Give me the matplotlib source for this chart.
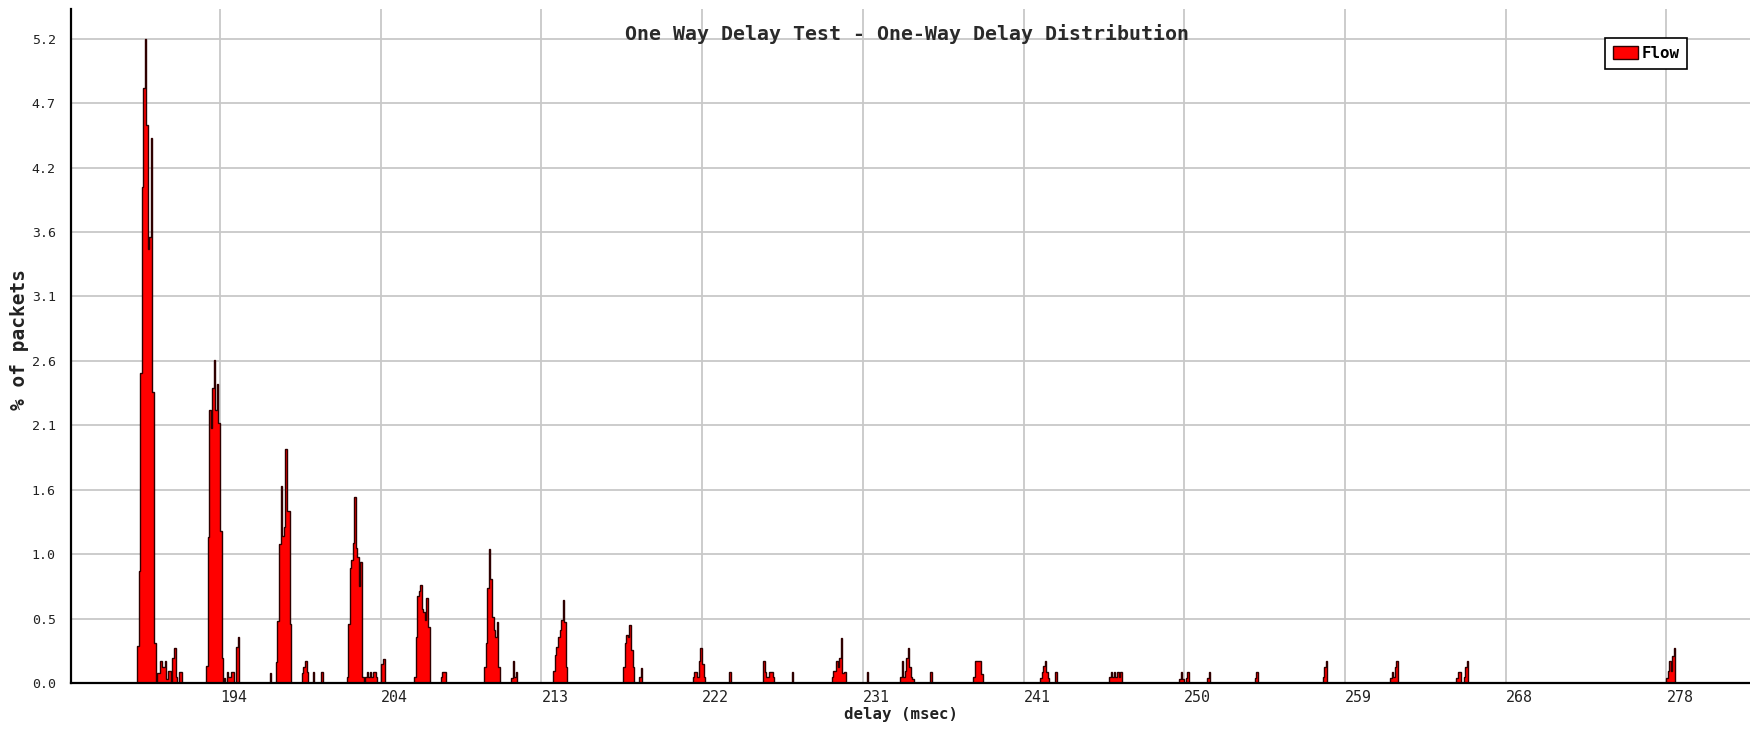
import numpy as np
import matplotlib
matplotlib.use('Agg')
import matplotlib.pyplot as plt
from matplotlib.patches import Patch

#################################
# histogram data (bin width in msec)
BIN = 0.09
# left edge (msec) of each run of consecutive bins
group_start = [189.18, 190.34, 193.19, 194.21, 196.90, 197.25, 198.76, 199.40,
               199.87, 201.35, 202.42, 203.38, 205.27, 206.83, 209.35, 210.90,
               213.36, 217.42, 218.35, 221.45, 223.58, 225.55, 227.20, 229.52,
               231.55, 233.49, 235.23, 237.75, 241.62, 242.49, 245.64, 249.71,
               251.33, 254.10, 258.04, 261.95, 265.78, 277.97]
# % of packets in each bin of the run
group_pct = [
    [0.30, 0.90, 2.50, 4.00, 4.80, 5.20, 4.50, 3.50, 3.60, 4.40, 2.35, 0.32],
    [0.08, 0.08, 0.18, 0.13, 0.13, 0.18, 0.03, 0.10, 0.10, 0.00, 0.20, 0.28, 0.05, 0.00, 0.09, 0.09],
    [0.14, 1.18, 2.20, 2.06, 2.38, 2.61, 2.20, 2.41, 2.10, 1.23, 0.20],
    [0.04, 0.00, 0.09, 0.05, 0.05, 0.09, 0.09, 0.00, 0.29, 0.37],
    [0.08],
    [0.17, 0.50, 1.12, 1.59, 1.19, 1.26, 1.89, 1.39, 1.39, 0.48],
    [0.08, 0.13, 0.18, 0.09],
    [0.09],
    [0.09],
    [0.05, 0.48, 0.93, 0.99, 1.13, 1.50, 1.09, 1.02, 0.78, 0.98, 0.05],
    [0.05, 0.09, 0.05, 0.09, 0.05, 0.09, 0.09, 0.05],
    [0.15, 0.19],
    [0.05, 0.37, 0.70, 0.74, 0.79, 0.60, 0.57, 0.51, 0.69, 0.45],
    [0.05, 0.09, 0.09],
    [0.13, 0.32, 0.77, 1.08, 0.84, 0.53, 0.43, 0.37, 0.49, 0.13],
    [0.04, 0.18, 0.05, 0.09],
    [0.10, 0.23, 0.29, 0.37, 0.43, 0.51, 0.67, 0.49, 0.13],
    [0.13, 0.32, 0.39, 0.37, 0.47, 0.27, 0.13],
    [0.05, 0.12],
    [0.05, 0.09, 0.09, 0.05, 0.18, 0.28, 0.15, 0.05],
    [0.09],
    [0.18, 0.09, 0.05, 0.05, 0.09, 0.09, 0.05],
    [0.09],
    [0.05, 0.10, 0.10, 0.18, 0.13, 0.20, 0.36, 0.08, 0.09],
    [0.09],
    [0.05, 0.18, 0.05, 0.10, 0.20, 0.28, 0.13, 0.05, 0.03],
    [0.09],
    [0.05, 0.18, 0.18, 0.18, 0.18, 0.07],
    [0.04, 0.09, 0.14, 0.18, 0.09, 0.04],
    [0.09],
    [0.05, 0.09, 0.05, 0.09, 0.05, 0.09, 0.05, 0.09],
    [0.03, 0.09, 0.03, 0.00, 0.04, 0.09],
    [0.04, 0.09],
    [0.04, 0.09],
    [0.05, 0.13, 0.18],
    [0.04, 0.09, 0.05, 0.13, 0.18],
    [0.04, 0.09, 0.09, 0.00, 0.00, 0.05, 0.13, 0.18],
    [0.04, 0.10, 0.18, 0.10, 0.22, 0.28],
]
xtick_labels = ['194', '204', '213', '222', '231', '241', '250', '259', '268', '278']
ytick_labels = ['0.0', '0.5', '1.0', '1.6', '2.1', '2.6', '3.1', '3.6', '4.2', '4.7', '5.2']
#################################

W, H = 1750, 729
MONO = 'DejaVu Sans Mono'
fig = plt.figure(figsize=(W / 100, H / 100), dpi=100)
ax = fig.add_axes([71 / W, 46 / H, (W - 71) / W, 674 / H])

FILL = '#ff0000'
EDGE = '#2e0000'
for start, pct in zip(group_start, group_pct):
    edges = start + BIN * np.arange(len(pct) + 1)
    ax.stairs(pct, edges, fill=True, color=FILL, zorder=2)
    ax.stairs(pct, edges, color=EDGE, linewidth=1.0, baseline=0, zorder=3)

xticks = np.linspace(194, 278, len(xtick_labels))
yticks = np.linspace(0, 5.2, len(ytick_labels))
ax.set_xlim(185.35, 282.85)
ax.set_ylim(0, 5.44)
ax.set_xticks(xticks)
ax.set_xticklabels(xtick_labels, ha='left', family=MONO, fontsize=10.8, color='#222222')
ax.set_yticks(yticks)
ax.set_yticklabels(ytick_labels, family=MONO, fontsize=9.5, color='#222222')
ax.tick_params(axis='x', length=0, pad=5)
ax.tick_params(axis='y', length=0, pad=11)
ax.grid(True, color='#c8c8c8', linewidth=1.3)
ax.set_axisbelow(True)
for s in ['top', 'right']:
    ax.spines[s].set_visible(False)
for s in ['left', 'bottom']:
    ax.spines[s].set_linewidth(1.6)
    ax.spines[s].set_color('black')
    ax.spines[s].set_zorder(4)

fig.text(907 / W, 1 - 40 / H, 'One Way Delay Test - One-Way Delay Distribution',
         ha='center', va='baseline', family=MONO, fontweight='bold',
         fontsize=14.3, color='#2a2a2a')
fig.text(901 / W, 1 - 714 / H, 'delay (msec)', ha='center', va='center',
         family=MONO, fontweight='bold', fontsize=11.3, color='#222222')
fig.text(20 / W, 1 - 340 / H, '% of packets', ha='center', va='center', rotation=90,
         family=MONO, fontweight='bold', fontsize=14, color='#222222')

leg = ax.legend(handles=[Patch(facecolor=FILL, edgecolor=EDGE, label='Flow')],
                loc='upper left', bbox_to_anchor=(1605 / W, 1 - 38 / H),
                bbox_transform=fig.transFigure, fancybox=False, framealpha=1,
                edgecolor='black', borderpad=0.5, handlelength=1.6, handleheight=0.9,
                handletextpad=0.2, borderaxespad=0,
                prop={'family': MONO, 'weight': 'bold', 'size': 11.4})
leg.get_frame().set_linewidth(1.2)

plt.savefig('out.png', dpi=100)
